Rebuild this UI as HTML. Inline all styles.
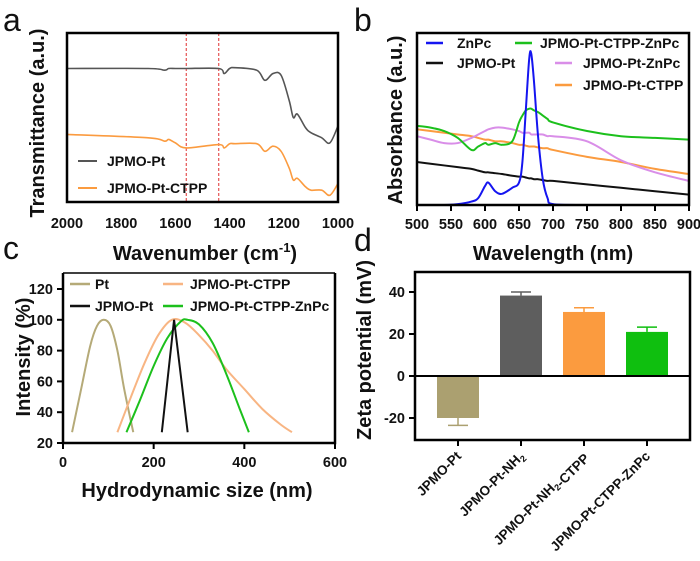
<!DOCTYPE html>
<html><head><meta charset="utf-8"><style>
body{margin:0;background:#fff}
svg{display:block;font-family:"Liberation Sans",Arial,sans-serif}
.tk{font-size:14.5px;font-weight:bold;fill:#111}
.tt{font-size:20px;font-weight:bold;fill:#111}
.lg{font-size:14px;font-weight:bold;fill:#111}
.pl{font-size:32px;fill:#111}
</style></head><body>
<svg id="fig" width="700" height="561" viewBox="0 0 700 561"></svg>
<script>
// Panel a (FTIR)
const aX=[2000,1700,1640,1625,1600,1560,1440,1420,1400,1380,1300,1270,1240,1210,1180,1165,1150,1120,1100,1060,1030,1000];
const aGray=[0.79,0.79,0.78,0.79,0.79,0.79,0.79,0.76,0.79,0.795,0.78,0.72,0.76,0.75,0.6,0.5,0.52,0.44,0.41,0.38,0.35,0.45];
const aOrange=[0.4,0.38,0.36,0.37,0.35,0.32,0.34,0.32,0.345,0.345,0.345,0.3,0.33,0.3,0.2,0.13,0.14,0.09,0.07,0.07,0.04,0.11];
const aRefLines=[1560,1440];
// Panel b (UV-vis)
const bX=[500,520,540,560,580,590,600,605,615,625,640,650,655,660,665,668,672,678,685,692,700,750,800,850,900];
const bZnPc=[0,0,0,0.005,0.02,0.04,0.11,0.13,0.08,0.065,0.1,0.13,0.25,0.55,0.85,0.88,0.72,0.4,0.15,0.04,0.005,0,0,0,0];
const bGreen=[0.46,0.45,0.43,0.39,0.32,0.34,0.36,0.35,0.36,0.35,0.37,0.48,0.52,0.55,0.56,0.56,0.55,0.54,0.52,0.5,0.48,0.43,0.4,0.39,0.38];
const bViolet=[0.4,0.38,0.36,0.36,0.39,0.41,0.43,0.44,0.45,0.45,0.44,0.43,0.42,0.42,0.42,0.41,0.41,0.41,0.41,0.4,0.4,0.37,0.26,0.19,0.14];
const bOrange=[0.44,0.43,0.42,0.41,0.4,0.39,0.38,0.38,0.37,0.37,0.36,0.35,0.35,0.345,0.34,0.34,0.34,0.335,0.33,0.33,0.32,0.28,0.25,0.21,0.18];
const bBlack=[0.25,0.24,0.23,0.22,0.21,0.2,0.19,0.19,0.185,0.18,0.17,0.165,0.165,0.16,0.155,0.155,0.15,0.15,0.145,0.14,0.14,0.12,0.1,0.08,0.06];
const bXTicks=[500,550,600,650,700,750,800,850,900];
// Panel c (DLS)
const cPtX=[20,40,60,75,90,105,120,135,155];
const cPtY=[27,55,83,96,100,96,80,55,27];
const cOrX=[120,150,180,210,240,270,300,330,360,400,440,480,505];
const cOrY=[27,50,72,90,100,98,90,80,68,55,42,32,27];
const cGrX=[140,170,200,230,260,275,300,330,360,390,410];
const cGrY=[27,48,70,88,99,100,97,85,65,42,27];
const cBkX=[218,245,275];
const cBkY=[27,100,27];
const cXTicks=[0,200,400,600];
const cYTicks=[20,40,60,80,100,120];
// Panel d (zeta)
const dCats=["JPMO-Pt","JPMO-Pt-NH2","JPMO-Pt-NH2-CTPP","JPMO-Pt-CTPP-ZnPc"];
const dVals=[-20,38.3,30.5,21];
const dErr=[3.5,1.7,2,2.3];
const dColors=["#aba070","#5e5e5e","#fb9b3f","#0fbf0f"];
const dYTicks=[-20,0,20,40];

const NS="http://www.w3.org/2000/svg";
const svg=document.getElementById('fig');
function mk(tag,attrs,parent,text){const e=document.createElementNS(NS,tag);for(const k in attrs)e.setAttribute(k,attrs[k]);if(text!==undefined)e.textContent=text;(parent||svg).appendChild(e);return e;}
function smooth(pts){let d="M"+pts[0][0]+","+pts[0][1];for(let i=0;i<pts.length-1;i++){const p0=pts[Math.max(0,i-1)],p1=pts[i],p2=pts[i+1],p3=pts[Math.min(pts.length-1,i+2)];const c1=[p1[0]+(p2[0]-p0[0])/6,p1[1]+(p2[1]-p0[1])/6],c2=[p2[0]-(p3[0]-p1[0])/6,p2[1]-(p3[1]-p1[1])/6];d+=` C${c1[0]},${c1[1]} ${c2[0]},${c2[1]} ${p2[0]},${p2[1]}`;}return d;}

// ---------- Panel a ----------
const ax=v=>67+(2000-v)/1000*271, ay=v=>202-v*169;
let g=mk('g',{});

let t=mk('text',{x:3,y:31,class:'pl'},g,'a');
aRefLines.forEach(v=>{const l=mk('line',{x1:ax(v),x2:ax(v),y1:33,y2:202,stroke:'#e03030','stroke-width':1,'stroke-dasharray':'3,2'},g);});
let p=mk('path',{d:smooth(aX.map((x,i)=>[ax(x),ay(aGray[i])])),fill:'none',stroke:'#555','stroke-width':1.6},g);
p=mk('path',{d:smooth(aX.map((x,i)=>[ax(x),ay(aOrange[i])])),fill:'none',stroke:'#fb9b3f','stroke-width':1.6},g);
let r=mk('rect',{x:67,y:33,width:271,height:169,fill:'none',stroke:'#000','stroke-width':2.5},g);
[2000,1800,1600,1400,1200,1000].forEach(v=>{const e=mk('text',{x:ax(v),y:228,class:'tk','text-anchor':'middle'},g,v);});
[['JPMO-Pt','#555',161],['JPMO-Pt-CTPP','#fb9b3f',188]].forEach(([n,c,y])=>{const l=mk('line',{x1:78,x2:97,y1:y,y2:y,stroke:c,'stroke-width':2},g);const e=mk('text',{x:107,y:y+5,class:'lg'},g,n);});
t=mk('text',{x:205,y:260,class:'tt','text-anchor':'middle'},g,'Wavenumber (cm');mk('tspan',{'font-size':'13px',dy:-8},t,'-1');mk('tspan',{dy:8},t,')');
t=mk('text',{x:0,y:0,class:'tt','text-anchor':'middle',transform:'translate(44,123) rotate(-90)'},g,'Transmittance (a.u.)');

// ---------- Panel b ----------
const bx=v=>417+(v-500)/400*272, by=v=>205-v*172;
g=mk('g',{});
t=mk('text',{x:354,y:31,class:'pl'},g,'b');
[[bBlack,'#111','series-jpmo-pt'],[bOrange,'#fb9b3f','series-jpmo-pt-ctpp'],[bViolet,'#d98ee8','series-jpmo-pt-znpc'],[bGreen,'#1cc01c','series-jpmo-pt-ctpp-znpc'],[bZnPc,'#1515f0','series-znpc']].forEach(([arr,c,n])=>{const e=mk('path',{d:smooth(bX.map((x,i)=>[bx(x),by(arr[i])])),fill:'none',stroke:c,'stroke-width':2},g);});
r=mk('rect',{x:417,y:33,width:272,height:172,fill:'none',stroke:'#000','stroke-width':2.5},g);
bXTicks.forEach(v=>{mk('line',{x1:bx(v),x2:bx(v),y1:205,y2:211,stroke:'#000','stroke-width':2},g);const e=mk('text',{x:bx(v),y:229,class:'tk','text-anchor':'middle'},g,v);});
[['ZnPc','#1515f0',426,43,457],['JPMO-Pt','#111',426,63,457],['JPMO-Pt-CTPP-ZnPc','#1cc01c',515,43,540],['JPMO-Pt-ZnPc','#d98ee8',555,63,583],['JPMO-Pt-CTPP','#fb9b3f',555,85,583]].forEach(([n,c,x,y,tx])=>{const l=mk('line',{x1:x,x2:x+17,y1:y,y2:y,stroke:c,'stroke-width':2.5},g);const e=mk('text',{x:tx,y:y+5,class:'lg'},g,n);});
t=mk('text',{x:553,y:260,class:'tt','text-anchor':'middle'},g,'Wavelength (nm)');
t=mk('text',{x:0,y:0,class:'tt','text-anchor':'middle',transform:'translate(402,120) rotate(-90)'},g,'Absorbance (a.u.)');

// ---------- Panel c ----------
const cx=v=>63+v/600*272, cy=v=>443-(v-20)*1.54;
g=mk('g',{});
t=mk('text',{x:3,y:259,class:'pl'},g,'c');
[[cPtX,cPtY,'#b5aa78','series-pt'],[cOrX,cOrY,'#f8b583','series-jpmo-pt-ctpp'],[cGrX,cGrY,'#1cc01c','series-jpmo-pt-ctpp-znpc']].forEach(([xs,ys,c,n])=>{const e=mk('path',{d:smooth(xs.map((x,i)=>[cx(x),cy(ys[i])])),fill:'none',stroke:c,'stroke-width':2},g);});
p=mk('polyline',{points:cBkX.map((x,i)=>cx(x)+','+cy(cBkY[i])).join(' '),fill:'none',stroke:'#111','stroke-width':2},g);
p=mk('path',{d:'M63,273 V443 H335 V273',fill:'none',stroke:'#000','stroke-width':2.5},g);
mk('line',{x1:63,x2:335,y1:273,y2:273,stroke:'#000','stroke-width':1.5},g);
cXTicks.forEach(v=>{mk('line',{x1:cx(v),x2:cx(v),y1:443,y2:449,stroke:'#000','stroke-width':2},g);const e=mk('text',{x:cx(v),y:467,class:'tk','text-anchor':'middle'},g,v);});
cYTicks.forEach(v=>{mk('line',{x1:57,x2:63,y1:cy(v),y2:cy(v),stroke:'#000','stroke-width':2},g);const e=mk('text',{x:53,y:cy(v)+5,class:'tk','text-anchor':'end'},g,v);});
[['Pt','#b5aa78',70,284,95],['JPMO-Pt','#111',70,306,95],['JPMO-Pt-CTPP','#f8b583',163,284,190],['JPMO-Pt-CTPP-ZnPc','#1cc01c',163,306,190]].forEach(([n,c,x,y,tx])=>{const l=mk('line',{x1:x,x2:x+20,y1:y,y2:y,stroke:c,'stroke-width':2.5},g);const e=mk('text',{x:tx,y:y+5,class:'lg'},g,n);});
t=mk('text',{x:197,y:497,class:'tt','text-anchor':'middle'},g,'Hydrodynamic size (nm)');
t=mk('text',{x:0,y:0,class:'tt','text-anchor':'middle',transform:'translate(30,357) rotate(-90)'},g,'Intensity (%)');

// ---------- Panel d ----------
const dy=v=>376-v*2.1, dx=i=>458+i*63;
g=mk('g',{});
t=mk('text',{x:354,y:251,class:'pl'},g,'d');
dVals.forEach((v,i)=>{const y0=dy(0),y1=dy(v);const b=mk('rect',{x:dx(i)-21,y:Math.min(y0,y1),width:42,height:Math.abs(y1-y0),fill:dColors[i]},g);
const ye=dy(v+Math.sign(v)*dErr[i]);const e=mk('path',{d:`M${dx(i)},${y1} V${ye} M${dx(i)-10},${ye} H${dx(i)+10}`,stroke:dColors[i],'stroke-width':1.5,fill:'none'},g);});
r=mk('rect',{x:415,y:272,width:275,height:168,fill:'none',stroke:'#000','stroke-width':2.5},g);
mk('line',{x1:415,x2:690,y1:dy(0),y2:dy(0),stroke:'#000','stroke-width':2},g);
dYTicks.forEach(v=>{mk('line',{x1:409,x2:415,y1:dy(v),y2:dy(v),stroke:'#000','stroke-width':2},g);const e=mk('text',{x:405,y:dy(v)+5,class:'tk','text-anchor':'end'},g,v);});
dCats.forEach((c,i)=>{mk('line',{x1:dx(i),x2:dx(i),y1:440,y2:446,stroke:'#000','stroke-width':2},g);const e=mk('text',{x:0,y:0,class:'tk','text-anchor':'end',transform:`translate(${dx(i)+4},${457}) rotate(-45)`},g);
e.style.fontSize='13.5px';
const parts=c.split('NH2');parts.forEach((s,j)=>{mk('tspan',{},e,s);if(j<parts.length-1){mk('tspan',{},e,'NH');mk('tspan',{'font-size':'9px',dy:3},e,'2');mk('tspan',{dy:-3},e,'');}});
});
t=mk('text',{x:0,y:0,class:'tt','text-anchor':'middle',transform:'translate(371,350) rotate(-90)'},g,'Zeta potential (mV)');
</script>
</body></html>
